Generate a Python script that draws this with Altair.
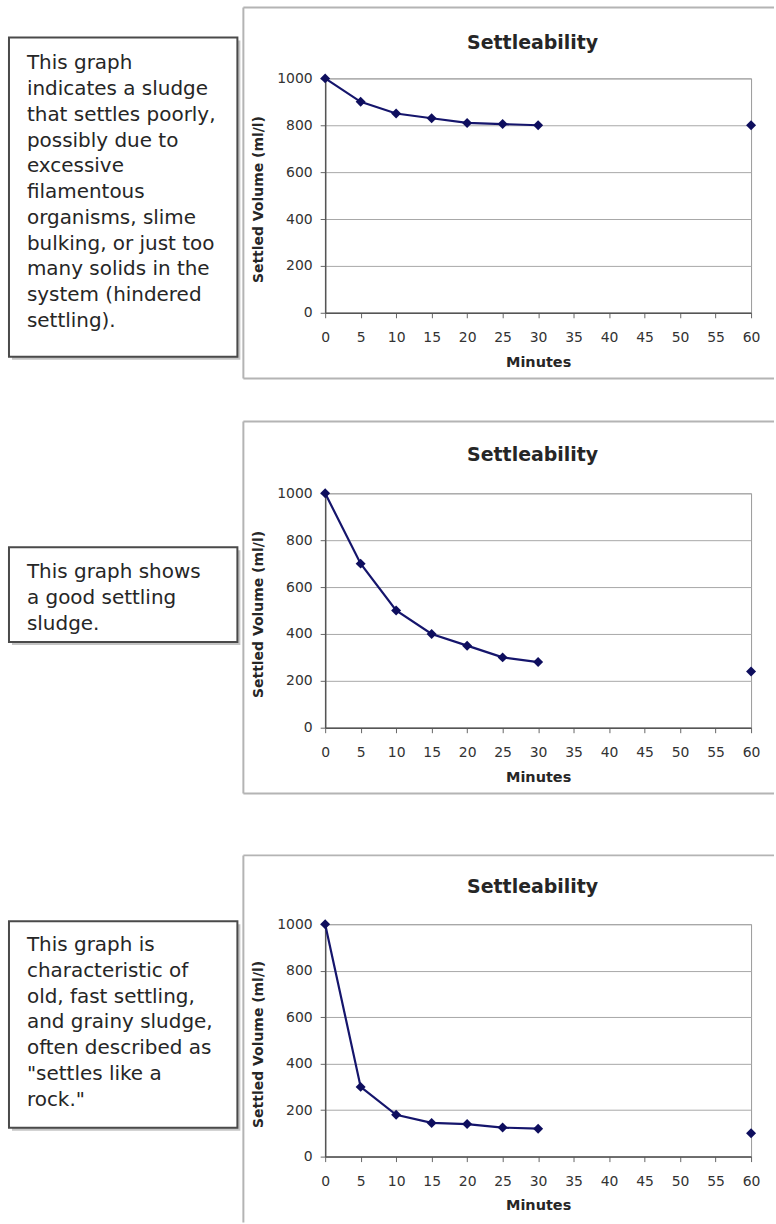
import altair as alt
import pandas as pd

# ---- data -------------------------------------------------------------
minutes = [0, 5, 10, 15, 20, 25, 30, 60]
volume_poor = [1000, 900, 850, 830, 810, 805, 800, 800]
volume_good = [1000, 700, 500, 400, 350, 300, 280, 240]
volume_rock = [1000, 300, 180, 145, 140, 125, 120, 100]

x_ticks = [0, 5, 10, 15, 20, 25, 30, 35, 40, 45, 50, 55, 60]
y_ticks = [0, 200, 400, 600, 800, 1000]

chart_title = "Settleability"
x_title = "Minutes"
y_title = "Settled Volume (ml/l)"

text_poor = ["This graph", "indicates a sludge", "that settles poorly,",
             "possibly due to", "excessive", "filamentous",
             "organisms, slime", "bulking, or just too",
             "many solids in the", "system (hindered", "settling)."]
text_good = ["This graph shows", "a good settling", "sludge."]
text_rock = ["This graph is", "characteristic of", "old, fast settling,",
             "and grainy sludge,", "often described as", "\"settles like a",
             "rock.\""]

# ---- styling ----------------------------------------------------------
W = 427
NAVY = "#15156c"
FRAME = "#b4b4b4"
FONT = "DejaVu Sans"
TXT = "#262626"

one = pd.DataFrame({"k": [0]})


def panel(values, lines, h, frame_top, frame_bottom, box_top, box_bottom,
          text_y, title_y, bound=None):
    b = alt.Chart(one)
    layers = []
    # outer chart frame (top, left, bottom)
    layers.append(b.mark_rule(color=FRAME, strokeWidth=2).encode(
        x=alt.value(-82), x2=alt.value(450), y=alt.value(frame_top)))
    left_end = frame_bottom if frame_bottom is not None else 299
    layers.append(b.mark_rule(color=FRAME, strokeWidth=2).encode(
        x=alt.value(-82), y=alt.value(frame_top), y2=alt.value(left_end)))
    if frame_bottom is not None:
        layers.append(b.mark_rule(color=FRAME, strokeWidth=2).encode(
            x=alt.value(-82), x2=alt.value(450), y=alt.value(frame_bottom)))
    # text box with shadow
    layers.append(b.mark_rect(color="#c4c4c4").encode(
        x=alt.value(-314), x2=alt.value(-85),
        y=alt.value(box_top + 3), y2=alt.value(box_bottom + 3)))
    layers.append(b.mark_rect(fill="white", stroke="#4a4a4a", strokeWidth=2).encode(
        x=alt.value(-317), x2=alt.value(-88),
        y=alt.value(box_top), y2=alt.value(box_bottom)))
    layers.append(b.mark_text(align="left", baseline="alphabetic", font=FONT,
                              fontSize=20, lineHeight=25.8, color=TXT).encode(
        x=alt.value(-299), y=alt.value(text_y), text=alt.value(lines)))
    # chart title and axis titles
    layers.append(b.mark_text(align="center", baseline="alphabetic", font=FONT,
                              fontSize=19, fontWeight="bold", color=TXT).encode(
        x=alt.value(208), y=alt.value(title_y), text=alt.value(chart_title)))
    layers.append(b.mark_text(align="center", baseline="middle", font=FONT,
                              fontSize=14, fontWeight="bold", color=TXT,
                              angle=270).encode(
        x=alt.value(-66), y=alt.value(h / 2 + 4), text=alt.value(y_title)))
    layers.append(b.mark_text(align="center", baseline="middle", font=FONT,
                              fontSize=14.5, fontWeight="bold", color=TXT).encode(
        x=alt.value(214), y=alt.value(h + 50), text=alt.value(x_title)))
    if bound is not None:
        layers.append(b.mark_rect(opacity=0, color="white").encode(
            x=alt.value(-325), x2=alt.value(451),
            y=alt.value(bound[0]), y2=alt.value(bound[1])))

    df = pd.DataFrame({"Minutes": minutes, "Volume": values})
    base = alt.Chart(df).encode(
        x=alt.X("Minutes:Q", scale=alt.Scale(domain=[0, 60], nice=False),
                axis=alt.Axis(values=x_ticks, title=None, grid=False, format="d",
                              labelFont=FONT, labelFontSize=14, labelColor="#333",
                              labelPadding=13, tickSize=5, tickColor="#666",
                              domainColor="#555", domainWidth=1.5,
                              labelFlush=False, labelOverlap=False)),
        y=alt.Y("Volume:Q", scale=alt.Scale(domain=[0, 1000], nice=False),
                axis=alt.Axis(values=y_ticks, title=None, grid=True, format="d",
                              gridColor="#a8a8a8", gridWidth=1,
                              labelFont=FONT, labelFontSize=14, labelColor="#333",
                              labelPadding=8, tickSize=5, tickColor="#666",
                              domainColor="#555", domainWidth=1.5,
                              labelFlush=False, labelOverlap=False)),
    )
    line = base.mark_line(color=NAVY, strokeWidth=2.2).transform_filter(
        "datum.Minutes <= 30")
    pts = base.mark_point(shape="diamond", filled=True, size=100, color="#0e0e5e", opacity=1)
    return alt.layer(line, pts, *layers).properties(width=W, height=h)


def spacer(h):
    return alt.Chart(one).mark_point(opacity=0).encode(
        x=alt.value(0), y=alt.value(0)
    ).properties(width=W, height=h, view=alt.ViewBackground(stroke="transparent"))


p1 = panel(volume_poor, text_poor, 235, -71, 301, -41, 279, -9, -29, bound=(-76, -74))
p2 = panel(volume_good, text_good, 235, -72, 301, 54, 149, 85, -32)
p3 = panel(volume_rock, text_rock, 233, -69, None, -3, 204, 27, -31, bound=(298, 300))

chart = alt.vconcat(p1, spacer(181), p2, spacer(197), p3, spacing=0, bounds="flush").properties(
    padding=0, background="white"
).configure_view(stroke="#9a9a9a", strokeWidth=1)

chart.save("out.html", embed_options={"renderer": "svg", "actions": False})
